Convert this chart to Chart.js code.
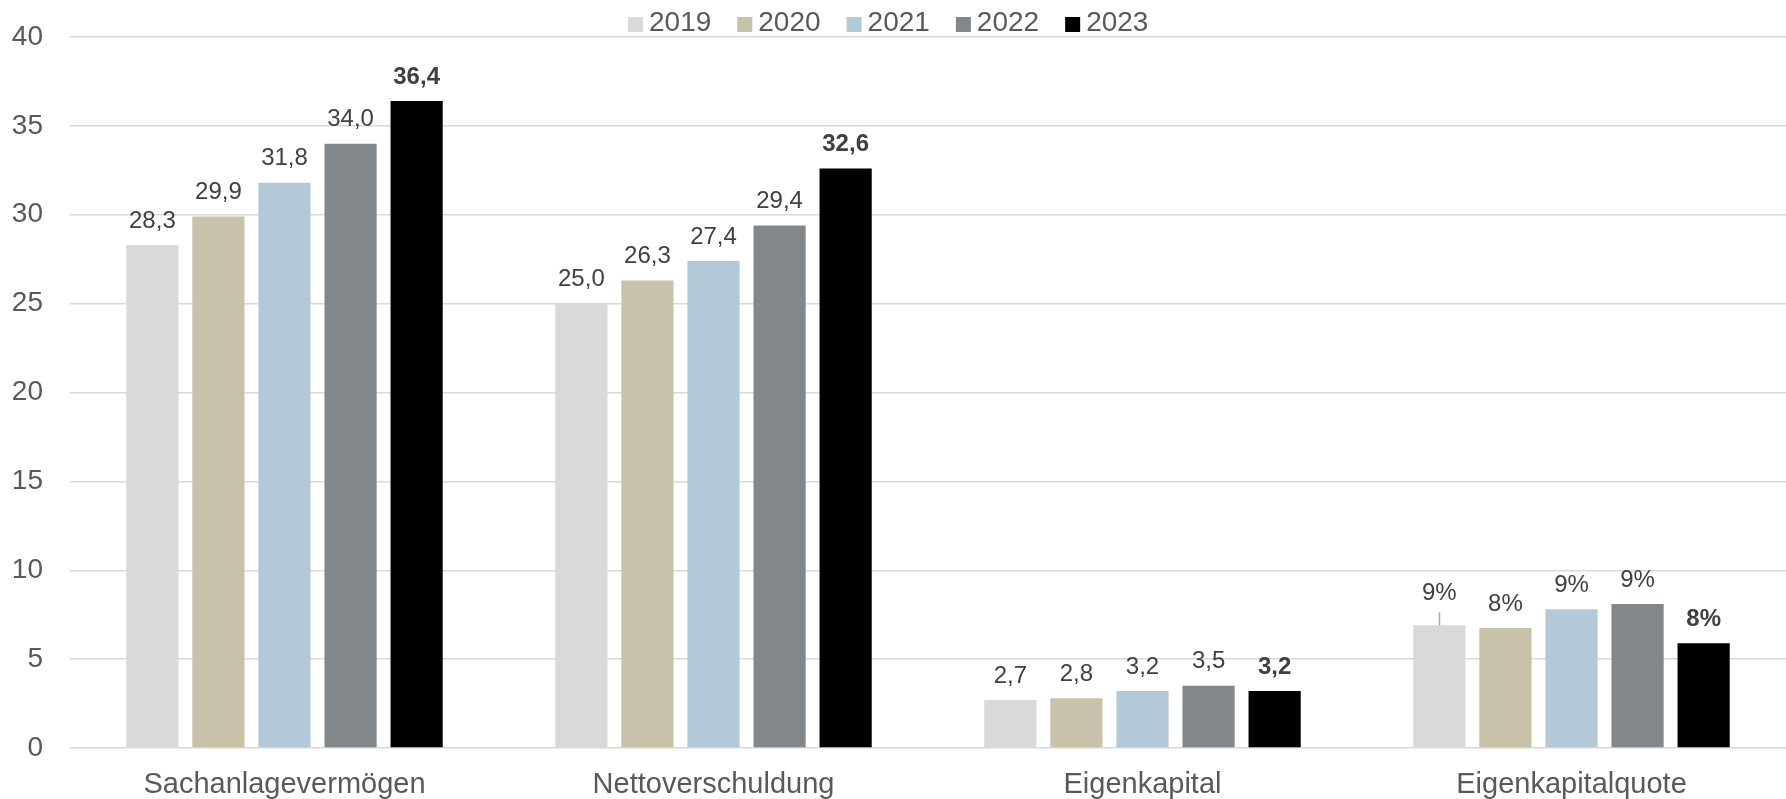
<!DOCTYPE html>
<html lang="de">
<head>
<meta charset="utf-8">
<title>Kennzahlen 2019-2023</title>
<script src="https://cdn.jsdelivr.net/npm/chart.js@4/dist/chart.umd.min.js"></script>
<style>
  html, body { margin: 0; padding: 0; background: #ffffff; }
  #chart { display: block; }
</style>
</head>
<body>
<canvas id="chart" width="1786" height="799"></canvas>
<script>
// Chart data
const categories = ['Sachanlagevermögen', 'Nettoverschuldung', 'Eigenkapital', 'Eigenkapitalquote'];
const years = ['2019', '2020', '2021', '2022', '2023'];

const values2019 = [28.3, 25.0, 2.7, 6.9];
const values2020 = [29.9, 26.3, 2.8, 6.75];
const values2021 = [31.8, 27.4, 3.2, 7.8];
const values2022 = [34.0, 29.4, 3.5, 8.1];
const values2023 = [36.4, 32.6, 3.2, 5.9];

// Shown labels (the quote bars carry percent labels)
const labels2019 = ['28,3', '25,0', '2,7', '9%'];
const labels2020 = ['29,9', '26,3', '2,8', '8%'];
const labels2021 = ['31,8', '27,4', '3,2', '9%'];
const labels2022 = ['34,0', '29,4', '3,5', '9%'];
const labels2023 = ['36,4', '32,6', '3,2', '8%'];

const yTicks = [0, 5, 10, 15, 20, 25, 30, 35, 40];

const barColors = ['#d9d9d9', '#c8c2ab', '#b3c9d8', '#82878b', '#000000'];

const FONT = '"Liberation Sans", Arial, sans-serif';
const TEXT_COLOR = '#595959';

const seriesValues = [values2019, values2020, values2021, values2022, values2023];
const seriesLabels = [labels2019, labels2020, labels2021, labels2022, labels2023];

// label that sits a bit higher with a small leader line (2019 quote)
const leaderLabels = [{ series: 0, index: 3 }];

// Draw value labels above bars
const valueLabels = {
    id: 'valueLabels',
    afterDatasetsDraw(chart) {
        const ctx = chart.ctx;
        ctx.save();
        ctx.textAlign = 'center';
        ctx.textBaseline = 'middle';
        chart.data.datasets.forEach((ds, i) => {
            const meta = chart.getDatasetMeta(i);
            const isLast = i === chart.data.datasets.length - 1;
            ctx.font = (isLast ? 'bold ' : '') + '24px ' + FONT;
            meta.data.forEach((bar, j) => {
                const hasLeader = leaderLabels.some(l => l.series === i && l.index === j);
                let offset = 24;
                if (hasLeader) {
                    offset = 32;
                    ctx.strokeStyle = '#a6a6a6';
                    ctx.lineWidth = 1.5;
                    ctx.beginPath();
                    ctx.moveTo(Math.round(bar.x) + 0.5, bar.y - 13);
                    ctx.lineTo(Math.round(bar.x) + 0.5, bar.y);
                    ctx.stroke();
                }
                ctx.fillStyle = '#404040';
                ctx.fillText(seriesLabels[i][j], bar.x, bar.y - offset);
            });
        });
        ctx.restore();
    }
};

// Legend drawn by hand: small square, narrow gap, year text
const topLegend = {
    id: 'topLegend',
    afterDraw(chart) {
        const ctx = chart.ctx;
        const boxSize = 15;
        const boxGap = 6;
        const itemGap = 26;
        ctx.save();
        ctx.font = '28px ' + FONT;
        ctx.textBaseline = 'middle';
        ctx.textAlign = 'left';
        const widths = years.map(y => ctx.measureText(y).width);
        const total = widths.reduce((s, w) => s + boxSize + boxGap + w, 0) + itemGap * (years.length - 1);
        let x = Math.round(chart.width / 2 - total / 2) - 5;
        years.forEach((year, i) => {
            ctx.fillStyle = barColors[i];
            ctx.fillRect(x, 17, boxSize, boxSize);
            ctx.fillStyle = TEXT_COLOR;
            ctx.fillText(year, x + boxSize + boxGap, 23);
            x += boxSize + boxGap + widths[i] + itemGap;
        });
        ctx.restore();
    }
};

const ctx = document.getElementById('chart').getContext('2d');

new Chart(ctx, {
    type: 'bar',
    data: {
        labels: categories,
        datasets: years.map((year, i) => ({
            label: year,
            data: seriesValues[i],
            backgroundColor: barColors[i],
            borderWidth: 0,
            categoryPercentage: 0.77,
            barPercentage: 0.79
        }))
    },
    options: {
        responsive: false,
        animation: false,
        layout: {
            padding: 0
        },
        plugins: {
            legend: { display: false },
            tooltip: { enabled: false }
        },
        scales: {
            x: {
                grid: { display: false, drawTicks: false },
                border: { display: false },
                ticks: {
                    color: TEXT_COLOR,
                    padding: 20,
                    font: { family: FONT, size: 29 }
                },
                afterFit: function(scale) {
                    scale.height = 51;
                }
            },
            y: {
                min: 0,
                max: 40,
                afterBuildTicks: function(scale) {
                    scale.ticks = yTicks.map(v => ({ value: v }));
                },
                grid: {
                    color: '#d9d9d9',
                    lineWidth: 1.5,
                    drawTicks: false
                },
                border: { display: false },
                ticks: {
                    color: TEXT_COLOR,
                    padding: 27,
                    font: { family: FONT, size: 28 }
                },
                afterFit: function(scale) {
                    // fixed axis width and room above the plot for the legend
                    scale.width = 70;
                    scale.paddingTop = 37;
                }
            }
        }
    },
    plugins: [valueLabels, topLegend]
});
</script>
</body>
</html>
